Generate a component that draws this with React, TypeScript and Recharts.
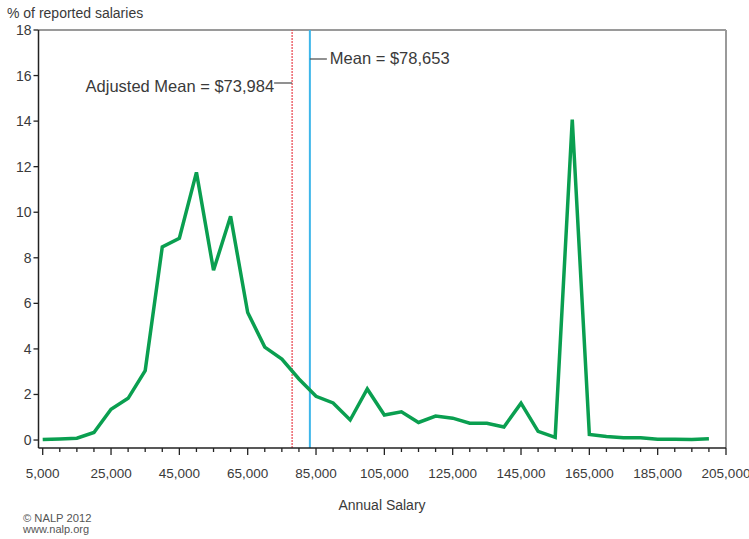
import React from 'react';
import { LineChart, Line, XAxis, YAxis, ReferenceLine } from 'recharts';

// salary bins (x) and share of reported salaries (%)
const salaries = [
    5000, 10000, 15000, 20000, 25000, 30000, 35000, 40000, 45000, 50000,
    55000, 60000, 65000, 70000, 75000, 80000, 85000, 90000, 95000, 100000,
    105000, 110000, 115000, 120000, 125000, 130000, 135000, 140000, 145000, 150000,
    155000, 160000, 165000, 170000, 175000, 180000, 185000, 190000, 195000, 200000,
];
const percents = [
    0.02, 0.05, 0.08, 0.33, 1.35, 1.83, 3.05, 8.48, 8.86, 11.75,
    7.45, 9.82, 5.6, 4.08, 3.55, 2.68, 1.92, 1.63, 0.88, 2.24,
    1.1, 1.24, 0.77, 1.05, 0.96, 0.74, 0.74, 0.57, 1.62, 0.38,
    0.12, 14.07, 0.24, 0.15, 0.1, 0.1, 0.03, 0.03, 0.02, 0.06,
];

const xTicks = [
    5000, 10000, 15000, 20000, 25000, 30000, 35000, 40000, 45000, 50000,
    55000, 60000, 65000, 70000, 75000, 80000, 85000, 90000, 95000, 100000,
    105000, 110000, 115000, 120000, 125000, 130000, 135000, 140000, 145000, 150000,
    155000, 160000, 165000, 170000, 175000, 180000, 185000, 190000, 195000, 200000, 205000,
];
const majorTicks = [5000, 25000, 45000, 65000, 85000, 105000, 125000, 145000, 165000, 185000, 205000];
const majorLabels = ['5,000', '25,000', '45,000', '65,000', '85,000', '105,000', '125,000', '145,000', '165,000', '185,000', '205,000'];
const yTicks = [0, 2, 4, 6, 8, 10, 12, 14, 16, 18];

// where the two mean markers sit on the drawn axis
const adjustedMeanX = 78000;
const meanX = 83200;
const adjustedMeanLabel = 'Adjusted Mean = $73,984';
const meanLabel = 'Mean = $78,653';

const data = salaries.map((s, i) => ({ salary: s, pct: percents[i] }));

const FONT = '"Liberation Sans", Arial, Helvetica, sans-serif';
const TEXT = '#3a3a3a';

const XTick = (props: any) => {
    const { x, y, payload } = props;
    const idx = majorTicks.indexOf(payload.value);
    const major = idx >= 0;
    return (
        <g>
            <line x1={x} x2={x} y1={y} y2={y + (major ? 7 : 4)} stroke="#222" strokeWidth={1.3} />
            {major && (
                <text x={x} y={y + 30} textAnchor="middle" fontSize={13.5} fill={TEXT} fontFamily={FONT}>
                    {majorLabels[idx]}
                </text>
            )}
        </g>
    );
};

const MeanTag = (props: any) => {
    const { x, y } = props.viewBox;
    return (
        <g>
            <line x1={x} x2={x + 17} y1={y + 29} y2={y + 29} stroke="#555" strokeWidth={1.3} />
            <text x={x + 20} y={y + 33.5} fontSize={16.5} fill={TEXT} fontFamily={FONT}>{meanLabel}</text>
        </g>
    );
};

const AdjustedTag = (props: any) => {
    const { x, y } = props.viewBox;
    return (
        <g>
            <line x1={x - 18} x2={x} y1={y + 53} y2={y + 53} stroke="#555" strokeWidth={1.3} />
            <text x={x - 18} y={y + 62} textAnchor="end" fontSize={16.5} fill={TEXT} fontFamily={FONT}>{adjustedMeanLabel}</text>
        </g>
    );
};

export default function App() {
    return (
        <div style={{ position: 'absolute', left: 0, top: 0, width: 749, height: 539, background: '#fff', fontFamily: FONT }}>
            <div style={{ position: 'absolute', left: 7, top: 5, fontSize: 14, color: TEXT, lineHeight: '16px' }}>
                % of reported salaries
            </div>
            <LineChart width={749} height={539} data={data} margin={{ top: 30, right: 23, bottom: 0, left: 0 }}>
                <XAxis
                    type="number"
                    dataKey="salary"
                    domain={[3770, 205000]}
                    ticks={xTicks}
                    interval={0}
                    height={91}
                    tickLine={false}
                    tickSize={0}
                    tickMargin={0}
                    tick={<XTick />}
                    axisLine={{ stroke: '#222', strokeWidth: 1.5 }}
                />
                <YAxis
                    type="number"
                    domain={[-0.35, 18]}
                    ticks={yTicks}
                    interval={0}
                    width={38.5}
                    tickSize={5}
                    tickMargin={2}
                    tickLine={{ stroke: '#222', strokeWidth: 1.3 }}
                    axisLine={{ stroke: '#222', strokeWidth: 1.5 }}
                    tick={{ fontSize: 14, fill: TEXT, fontFamily: FONT }}
                />
                <ReferenceLine y={18} stroke="#9a9a9a" strokeWidth={2} />
                <ReferenceLine x={205000} stroke="#9a9a9a" strokeWidth={2} />
                <ReferenceLine x={adjustedMeanX} stroke="#e8404a" strokeWidth={1.2} strokeDasharray="2 1" label={AdjustedTag} />
                <ReferenceLine x={meanX} stroke="#3db6ea" strokeWidth={2} label={MeanTag} />
                <Line
                    type="linear"
                    dataKey="pct"
                    stroke="#0a9f50"
                    strokeWidth={3.5}
                    dot={false}
                    isAnimationActive={false}
                />
            </LineChart>
            <div style={{ position: 'absolute', left: 338, top: 497, width: 88, textAlign: 'center', fontSize: 14, color: TEXT, whiteSpace: 'nowrap', lineHeight: '16px' }}>
                Annual Salary
            </div>
            <div style={{ position: 'absolute', left: 23, top: 512, fontSize: 11.2, color: '#555', lineHeight: '13px' }}>
                © NALP 2012
            </div>
            <div style={{ position: 'absolute', left: 23, top: 523, fontSize: 11, color: '#555', lineHeight: '13px' }}>
                www.nalp.org
            </div>
        </div>
    );
}
